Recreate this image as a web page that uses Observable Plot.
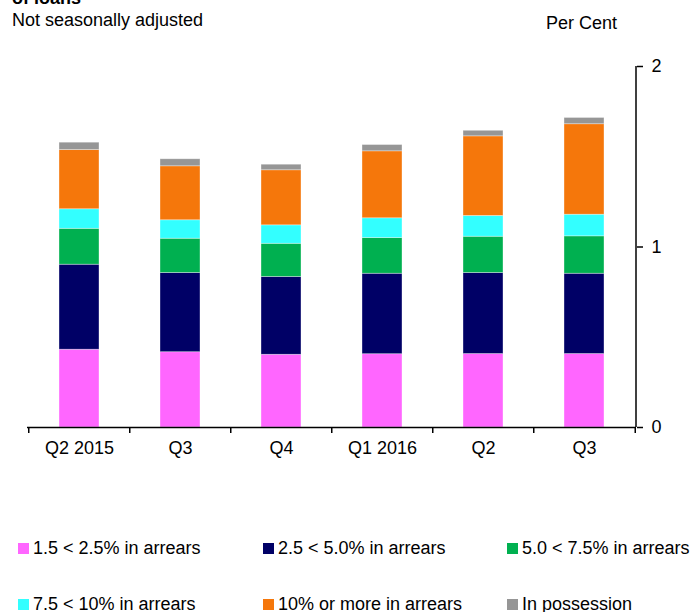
<!DOCTYPE html>
<html>
<head>
<meta charset="utf-8">
<script src="https://cdn.jsdelivr.net/npm/d3@7"></script>
<script src="https://cdn.jsdelivr.net/npm/@observablehq/plot@0.6"></script>
<style>
  html, body { margin: 0; padding: 0; background: #fff; }
  #wrap { position: relative; width: 697px; height: 612px; overflow: hidden; font-family: "Liberation Sans", Arial, sans-serif; color: #000; }
  .txt { position: absolute; font-size: 18px; line-height: 18px; white-space: nowrap; }
  #chart { position: absolute; left: 0; top: 0; }
  .leg { position: absolute; display: flex; align-items: center; font-size: 18px; line-height: 18px; white-space: nowrap; }
  .sw { width: 11px; height: 11px; margin-right: 4px; }
</style>
</head>
<body>
<div id="wrap">
  <div id="chart"></div>
  <div class="txt" style="left:12px; top:-11px; font-weight:bold;">of loans</div>
  <div class="txt" style="left:12px; top:11px;">Not seasonally adjusted</div>
  <div class="txt" style="left:546px; top:14px;">Per Cent</div>
  <div id="legend"></div>
</div>
<script>
// Categories and tick labels
const periods = ["2015 Q2", "2015 Q3", "2015 Q4", "2016 Q1", "2016 Q2", "2016 Q3"];
const tickLabels = ["Q2 2015", "Q3", "Q4", "Q1 2016", "Q2", "Q3"];

// Series names and colours
const seriesNames = ["1.5 < 2.5% in arrears", "2.5 < 5.0% in arrears", "5.0 < 7.5% in arrears",
                     "7.5 < 10% in arrears", "10% or more in arrears", "In possession"];
const seriesColors = ["#FF66FF", "#000066", "#00B050", "#33FFFF", "#F5770B", "#969696"];

// Series values (per cent of loans)
const arrears1_5to2_5 = [0.431, 0.417, 0.403, 0.406, 0.407, 0.407];
const arrears2_5to5_0 = [0.471, 0.439, 0.431, 0.446, 0.449, 0.445];
const arrears5_0to7_5 = [0.199, 0.190, 0.184, 0.198, 0.201, 0.207];
const arrears7_5to10 = [0.108, 0.102, 0.102, 0.109, 0.115, 0.120];
const arrears10plus = [0.328, 0.299, 0.305, 0.371, 0.441, 0.501];
const inPossession = [0.041, 0.039, 0.031, 0.035, 0.031, 0.035];

const yTicks = [0, 1, 2];

const seriesValues = [arrears1_5to2_5, arrears2_5to5_0, arrears5_0to7_5, arrears7_5to10, arrears10plus, inPossession];
const rows = [];
seriesNames.forEach((name, si) => {
  periods.forEach((p, pi) => rows.push({period: p, series: name, value: seriesValues[si][pi]}));
});
const labelOf = new Map(periods.map((p, i) => [p, tickLabels[i]]));

const W = 697, H = 480, mL = 27, mR = 61, mT = 66, mB = 53;
const step = (W - mL - mR) / periods.length;

const rightLine = (index, scales, values, dims) => {
  const x = dims.width - dims.marginRight;
  const l = document.createElementNS("http://www.w3.org/2000/svg", "line");
  l.setAttribute("x1", x); l.setAttribute("x2", x);
  l.setAttribute("y1", dims.marginTop); l.setAttribute("y2", dims.height - dims.marginBottom);
  l.setAttribute("stroke", "#000"); l.setAttribute("stroke-width", 1.5);
  return l;
};

const chart = Plot.plot({
  width: W, height: H,
  marginLeft: mL, marginRight: mR, marginTop: mT, marginBottom: mB,
  style: {fontFamily: "'Liberation Sans', Arial, sans-serif", fontSize: "18px", color: "#000", background: "transparent"},
  x: {type: "band", domain: periods, paddingInner: 0.6, paddingOuter: 0.3, label: null},
  y: {domain: [0, 2], label: null},
  color: {domain: seriesNames, range: seriesColors},
  marks: [
    Plot.barY(rows, {x: "period", y: "value", fill: "series", stroke: "#fff", strokeWidth: 0.7, strokeOpacity: 0.5}),
    Plot.ruleY([0], {stroke: "#000", strokeWidth: 1.5}),
    rightLine,
    Plot.axisY({anchor: "right", ticks: yTicks, tickSize: 6, tickPadding: 9, tickFormat: d => String(d), label: null, strokeWidth: 1.5, fontSize: 18}),
    Plot.axisX({ticks: periods, tickSize: 6, dx: -step / 2, tickFormat: () => "", label: null, strokeWidth: 1.5}),
    Plot.axisX({ticks: [periods[periods.length - 1]], tickSize: 6, dx: step / 2, tickFormat: () => "", label: null, strokeWidth: 1.5}),
    Plot.axisX({ticks: periods, tickSize: 0, tickPadding: 14, tickFormat: d => labelOf.get(d), label: null, fontSize: 18})
  ]
});
document.getElementById("chart").appendChild(chart);

// Legend
const legendPos = [[18, 539], [263, 539], [507, 539], [18, 595], [263, 595], [507, 595]];
const legend = document.getElementById("legend");
seriesNames.forEach((name, i) => {
  const item = document.createElement("div");
  item.className = "leg";
  item.style.left = legendPos[i][0] + "px";
  item.style.top = legendPos[i][1] + "px";
  const sw = document.createElement("div");
  sw.className = "sw";
  sw.style.background = seriesColors[i];
  const t = document.createElement("span");
  t.textContent = name;
  item.appendChild(sw); item.appendChild(t);
  legend.appendChild(item);
});
</script>
</body>
</html>
